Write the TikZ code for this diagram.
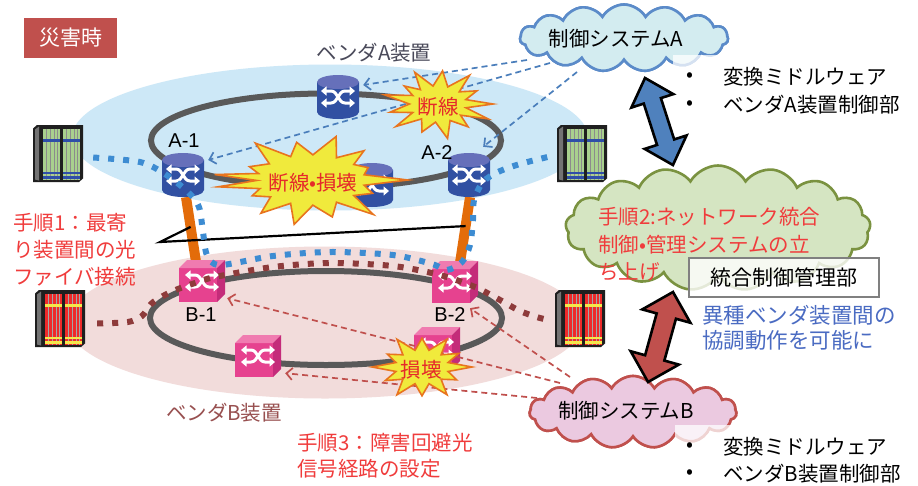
\documentclass[tikz,border=0pt]{standalone}
\usepackage{fontspec}
\setmainfont{Noto Sans CJK JP}
\newfontfamily\latinfont{Liberation Sans}
\usetikzlibrary{shapes.symbols,arrows.meta,calc}
\pgfdeclarelayer{under}
\pgfsetlayers{under,main}

\definecolor{disaster}{HTML}{C0504D}
\definecolor{skyfill}{HTML}{CDE8F7}
\definecolor{pinkfill}{HTML}{F2DCDB}
\definecolor{ringgray}{HTML}{595959}
\definecolor{cylbody}{HTML}{3150A2}
\definecolor{cyltop}{HTML}{6670BA}
\definecolor{cubefront}{HTML}{E6428F}
\definecolor{cubetop}{HTML}{F07BB0}
\definecolor{cubeside}{HTML}{C42C7A}
\definecolor{fiber}{HTML}{E36C0A}
\definecolor{dotblue}{HTML}{3D8CD2}
\definecolor{dotred}{HTML}{8E3B3B}
\definecolor{dashblue}{HTML}{4A7EBB}
\definecolor{dashred}{HTML}{C0504D}
\definecolor{stepred}{HTML}{F03C3C}
\definecolor{burstfill}{HTML}{F0EA3C}
\definecolor{burstline}{HTML}{E8741E}
\definecolor{burstred}{HTML}{E52A2A}
\definecolor{cloudAfill}{HTML}{D3ECF0}
\definecolor{cloudAline}{HTML}{5B8BC9}
\definecolor{cloudGfill}{HTML}{D5E5C2}
\definecolor{cloudGline}{HTML}{7A9240}
\definecolor{cloudBfill}{HTML}{EBC9E0}
\definecolor{cloudBline}{HTML}{C0504D}
\definecolor{coopblue}{HTML}{4A6BC2}
\definecolor{arrowblue}{HTML}{4F81BD}
\definecolor{arrowred}{HTML}{C0504D}
\definecolor{rackgreen}{HTML}{A9D18E}
\definecolor{rackred}{HTML}{EE2A2A}
\definecolor{rackyellow}{HTML}{F5E84A}
\definecolor{rackbar}{HTML}{2E4FA8}
\definecolor{vendorA}{HTML}{4A4A5A}
\definecolor{vendorB}{HTML}{985050}

% white crossing arrows of a switch icon
\newcommand\swicon[2]{%
  \begin{scope}[shift={(#1,#2)}]
    \draw[white, line width=3, {Triangle[length=5.5pt,width=9pt]}-{Triangle[length=5.5pt,width=9pt]}]
      (-17,6) -- (-7,6) .. controls (0,6) and (0,-6) .. (7,-6) -- (17,-6);
    \draw[white, line width=3, {Triangle[length=5.5pt,width=9pt]}-{Triangle[length=5.5pt,width=9pt]}]
      (-17,-6) -- (-7,-6) .. controls (0,-6) and (0,6) .. (7,6) -- (17,6);
  \end{scope}}

% vendor A switch: cylinder
\newcommand\cylpic{%
  \begin{scope}[shift={(path picture bounding box.center)}]
    \fill[cylbody] (-21,15) -- (-21,-15) arc[start angle=180,end angle=360,x radius=21,y radius=7] -- (21,15) -- cycle;
    \fill[cyltop] (0,15) ellipse[x radius=21,y radius=7];
    \swicon{0}{-4}
  \end{scope}}

% vendor B switch: cube
\newcommand\cubepic{%
  \begin{scope}[shift={(path picture bounding box.center)}]
    \fill[cubefront] (-23,-21) rectangle (15,13);
    \fill[cubetop] (-23,13) -- (-15,21) -- (23,21) -- (15,13) -- cycle;
    \fill[cubeside] (15,13) -- (23,21) -- (23,-13) -- (15,-21) -- cycle;
    \begin{scope}[shift={(-4,-4)},scale=0.92]\swicon{0}{0}\end{scope}
  \end{scope}}

% rack server: panel colour, line colour, bar colour
\newcommand\serverpic[3]{%
  \begin{scope}[shift={(path picture bounding box.center)}]
    \fill[black!88] (-25,25) -- (-21,28.5) -- (25,28.5) -- (25,-25) -- (21,-28.5) -- (-25,-28.5) -- cycle;
    \fill[black!55] (-23,24) -- (-19,27) -- (-19,-27) -- (-23,-26) -- cycle;
    \foreach \px in {-15,5}{
      \fill[#1] (\px,25) rectangle ++(17,-51);
      \foreach \lx in {3,7,11,14} \draw[#2, line width=0.8] (\px+\lx,25) -- ++(0,-51);
      \fill[#3] (\px,15) rectangle ++(17,-3);
      \fill[#3] (\px,-18) rectangle ++(17,-2.5);
      \fill[#3] (\px,-22.5) rectangle ++(17,-2.5);
    }
  \end{scope}}

% explosion mark: x radius, y radius, inner factor, list of inner-angle/outer-angle/factor
\newcommand\starblast[4]{%
  \draw[blast] ({#1},0) \foreach \m/\a/\f in {#4} {
      -- ({#3*#1*cos(\m)},{#3*#2*sin(\m)}) -- ({\f*#1*cos(\a)},{\f*#2*sin(\a)}) } -- cycle;}

% double-headed block arrow along the x axis
\newcommand\dblarrow[5]{%
  \filldraw[fill=#1, draw=black, line width=2.6, line join=miter]
    (0,0) -- (#5,#2) -- (#5,#3) -- (#4-#5,#3) -- (#4-#5,#2) -- (#4,0)
    -- (#4-#5,-#2) -- (#4-#5,-#3) -- (#5,-#3) -- (#5,-#2) -- cycle;}

\begin{document}
\begin{tikzpicture}[x=1pt,y=1pt,
  jp/.style={inner sep=0, font=\fontsize{20.5}{24}\selectfont},
  lat/.style={inner sep=0, font=\latinfont\fontsize{20}{24}\selectfont},
  swA/.style={rectangle, minimum width=42, minimum height=44, inner sep=0, path picture={\cylpic}},
  swB/.style={rectangle, minimum width=46, minimum height=42, inner sep=0, path picture={\cubepic}},
  rackA/.style={rectangle, minimum width=50, minimum height=57, inner sep=0, path picture={\serverpic{rackgreen}{black!45}{rackbar}}},
  rackB/.style={rectangle, minimum width=50, minimum height=57, inner sep=0, path picture={\serverpic{rackred}{black!35}{rackyellow}}},
  ring/.style={draw=ringgray, line width=6},
  fiberline/.style={draw=fiber, line width=10},
  callout/.style={draw=black, line width=2.2},
  bluedots/.style={draw=dotblue, line width=6, dash pattern=on 6pt off 9pt},
  reddots/.style={draw=dotred, line width=6, dash pattern=on 6pt off 9pt},
  ctlA/.style={draw=dashblue, line width=1.7, dash pattern=on 6pt off 4pt, -{Straight Barb[length=6pt,width=12pt]}},
  ctlB/.style={draw=dashred, line width=1.7, dash pattern=on 6pt off 4pt, -{Straight Barb[length=6pt,width=12pt]}},
  blast/.style={fill=burstfill, draw=burstline, line width=1.6, line join=miter},
  cloudbase/.style={cloud, cloud puffs=15, cloud puff arc=120, aspect=3, inner sep=0, line width=2.6},
]
\useasboundingbox (0,0) rectangle (918,-485);

% switches
\node[swA] (aT) at (338,-97) {};
\node[swA] (a1) at (183,-175) {};
\node[swA] (a2) at (469,-175) {};
\node[swA] (aH) at (372,-185) {};
\node[swB] (b1) at (202,-281) {};
\node[swB] (b2) at (455,-282) {};
\node[swB] (bL) at (258,-356) {};
\node[swB] (bH) at (437,-348) {};

% fibre links between the vendors
\coordinate (fa1) at ($(a1.south)+(3,0)$);
\coordinate (fb1) at ($(b1.north)+(-6,-2)$);
\coordinate (fa2) at ($(a2.south)+(1,0)$);
\coordinate (fb2) at ($(b2.north)+(5,-2)$);

\begin{pgfonlayer}{under}
  \fill[white] (0,0) rectangle (918,-485);
  % vendor domains
  \fill[skyfill] (330,-137.5) ellipse[x radius=258, y radius=73];
  \fill[pinkfill] (325,-322.5) ellipse[x radius=258, y radius=76];
  % rings
  \draw[ring] (326,-140.5) ellipse[x radius=175, y radius=47];
  \draw[ring] (326,-318) ellipse[x radius=176, y radius=47];
  \draw[fiberline] (fa1) -- (fb1);
  \draw[fiberline] (fa2) -- (fb2);
\end{pgfonlayer}

% callout from step 1
\coordinate (co) at (160,-242);
\draw[callout] ($(fa1)!0.46!(fb1)$) -- (co) -- ($(fa2)!0.44!(fb2)$);

% servers
\node[rackA] (sA1) at (58,-153.5) {};
\node[rackA] (sA2) at (582,-153.5) {};
\node[rackB] (sB1) at (60,-318.5) {};
\node[rackB] (sB2) at (580,-318.5) {};

% clouds (placed first so that the control lines can refer to them)
\node[cloudbase, draw=cloudAline, fill=cloudAfill, minimum width=208, minimum height=67] (cA) at (624,-38) {};
\node[cloudbase, draw=cloudGline, fill=cloudGfill, cloud puffs=17, minimum width=305, minimum height=125, aspect=2.4] (cG) at (718,-228) {};
\node[cloudbase, draw=cloudBline, fill=cloudBfill, minimum width=207, minimum height=72] (cB) at (633,-412) {};

% control lines from the vendor control systems
\draw[ctlA] ($(cA.center)+(-97,-22)$) -- ($(aT.east)+(4,12)$);
\draw[ctlA] ($(cA.center)+(-74,-25)$) -- ($(a1.east)+(4,15)$);
\draw[ctlA] ($(cA.center)+(-47,-34)$) -- ($(a2.north east)+(-7,6)$);
\draw[ctlB] ($(cB.center)+(-63,35)$) -- ($(b2.south)+(15,-5)$);
\draw[ctlB] ($(cB.center)+(-73,29)$) -- ($(b1.south east)+(2,4)$);
\draw[ctlB] ($(cB.center)+(-96,14)$) -- ($(bL.south east)+(4,4)$);

% clouds again on top of the control lines
\node[cloudbase, draw=cloudAline, fill=cloudAfill, minimum width=208, minimum height=67] at (cA) {};
\node[cloudbase, draw=cloudBline, fill=cloudBfill, minimum width=207, minimum height=72] at (cB) {};

% optical paths
\draw[bluedots] plot[smooth, tension=0.5] coordinates {
  ($(sA1.east)+(10,-4)$) (140,-162) (165,-174) (188,-192) (199,-207) (203,-232) (207,-255)
  (220,-265) (273,-256) (330,-252) (393,-255) (432,-264) (447,-270) (462,-262)
  (470,-245) (473,-220) (474,-200) (483,-182) (498,-172) (520,-164) ($(sA2.west)+(-3,-2)$)};
\draw[reddots] plot[smooth, tension=0.5] coordinates {
  ($(sB1.east)+(12,-5)$) (128,-322) (142,-316) (151,-304) (163,-296) (178,-289) (195,-283)
  (215,-277) (273,-267) (330,-263) (393,-266) (440,-275) (475,-287) (500,-300)
  (520,-311) (540,-318) ($(sB2.west)+(-3,-2)$)};

% failures
\coordinate (brk1) at (438,-104);
\coordinate (brk2) at (311,-180);
\coordinate (brk3) at (422,-367);
\begin{scope}[shift={(brk1)}]
  \starblast{55}{35}{0.52}{14/28/0.8, 42/55/1.0, 70/85/0.95, 100/115/1.0, 128/140/0.8, 152/165/1.0, 180/195/0.9, 208/220/1.0, 235/250/0.85, 265/280/1.0, 295/310/0.85, 322/335/1.0, 348/360/1.0}
\end{scope}
\begin{scope}[shift={(brk2)}]
  \starblast{97}{45}{0.56}{12/25/0.65, 38/50/0.85, 62/75/1.0, 88/100/0.85, 112/125/1.0, 140/155/0.7, 165/173/1.0, 181/189/0.97, 200/210/0.7, 222/235/0.9, 248/260/1.0, 272/285/0.85, 298/310/1.0, 322/335/0.7, 348/360/1.0}
\end{scope}
\begin{scope}[shift={(brk3)}]
  \starblast{50}{32}{0.54}{15/30/0.85, 45/60/1.0, 75/90/0.9, 105/120/1.0, 135/150/0.8, 165/180/1.0, 195/210/0.85, 225/240/1.0, 255/270/0.9, 285/300/1.0, 315/330/0.8, 345/360/1.0}
\end{scope}
\node[jp, text=burstred] (brk1t) at (438,-107) {断線};
\node[jp, text=burstred] (brk2t) at (313,-183) {断線•損壊};
\node[jp, text=burstred] (brk3t) at (421,-370) {損壊};

% white panels behind the bullet lists
\fill[white, opacity=0.75] (673,-55) rectangle (918,-122);
\fill[white, opacity=0.75] (675,-425) rectangle (918,-485);

% integrated control box
\node[draw=black!50, line width=1.5, fill=white, fill opacity=0.8, text opacity=1, minimum width=190, minimum height=39, inner sep=0, font=\fontsize{21}{24}\selectfont] (ctl) at (784,-277.5) {統合制御管理部};

% exchange arrows
\coordinate (dA1) at (645,-78);
\coordinate (dB1) at (673,-292);
\begin{scope}[shift={(dA1)}, rotate=-72.2]
  \dblarrow{arrowblue}{22}{9}{91.4}{24}
\end{scope}
\begin{scope}[shift={(dB1)}, rotate=-105.5]
  \dblarrow{arrowred}{25}{10}{93.4}{25}
\end{scope}

% labels
\node[fill=disaster, minimum width=93, minimum height=40, inner sep=0, text=white, font=\fontsize{21}{24}\selectfont] (dis) at (70.5,-38) {災害時};
\node[jp, text=vendorA] (vA) at (374,-53) {ベンダA装置};
\node[jp, text=vendorB] (vB) at (224,-413) {ベンダB装置};
\node[lat] (la1) at (184,-141) {A-1};
\node[lat] (la2) at (437,-153) {A-2};
\node[lat] (lb1) at (201,-315) {B-1};
\node[lat] (lb2) at (450,-315) {B-2};

\node[jp] (cAt) at (616,-39) {制御システムA};
\node[jp] (cBt) at (626,-411) {制御システムB};

\node[jp, text=stepred, anchor=west] (s1a) at (13,-223) {手順1：最寄};
\node[jp, text=stepred, anchor=west] (s1b) at (13,-250) {り装置間の光};
\node[jp, text=stepred, anchor=west] (s1c) at (13,-277) {ファイバ接続};
\node[jp, text=stepred, anchor=west] (s3a) at (297,-443) {手順3：障害回避光};
\node[jp, text=stepred, anchor=west] (s3b) at (297,-469) {信号経路の設定};
\node[jp, text=stepred, anchor=west] (s2a) at (598,-217) {手順2:ネットワーク統合};
\node[jp, text=stepred, anchor=west] (s2b) at (598,-244.5) {制御•管理システムの立};
\node[jp, text=stepred, anchor=west] (s2c) at (598,-272) {ち上げ};

\node[jp] (bulA1) at (690,-77) {•};
\node[jp] (bulA2) at (690,-105) {•};
\node[jp, anchor=west] (mwA) at (723,-77) {変換ミドルウェア};
\node[jp, anchor=west] (ctA) at (723,-105) {ベンダA装置制御部};
\node[jp] (bulB1) at (690,-447) {•};
\node[jp] (bulB2) at (690,-474) {•};
\node[jp, anchor=west] (mwB) at (723,-447) {変換ミドルウェア};
\node[jp, anchor=west] (ctB) at (723,-474) {ベンダB装置制御部};

\node[jp, text=coopblue, anchor=west, font=\fontsize{21.5}{24}\selectfont] (co1) at (702,-315) {異種ベンダ装置間の};
\node[jp, text=coopblue, anchor=west, font=\fontsize{21.5}{24}\selectfont] (co2) at (702,-340) {協調動作を可能に};
\end{tikzpicture}
\end{document}
